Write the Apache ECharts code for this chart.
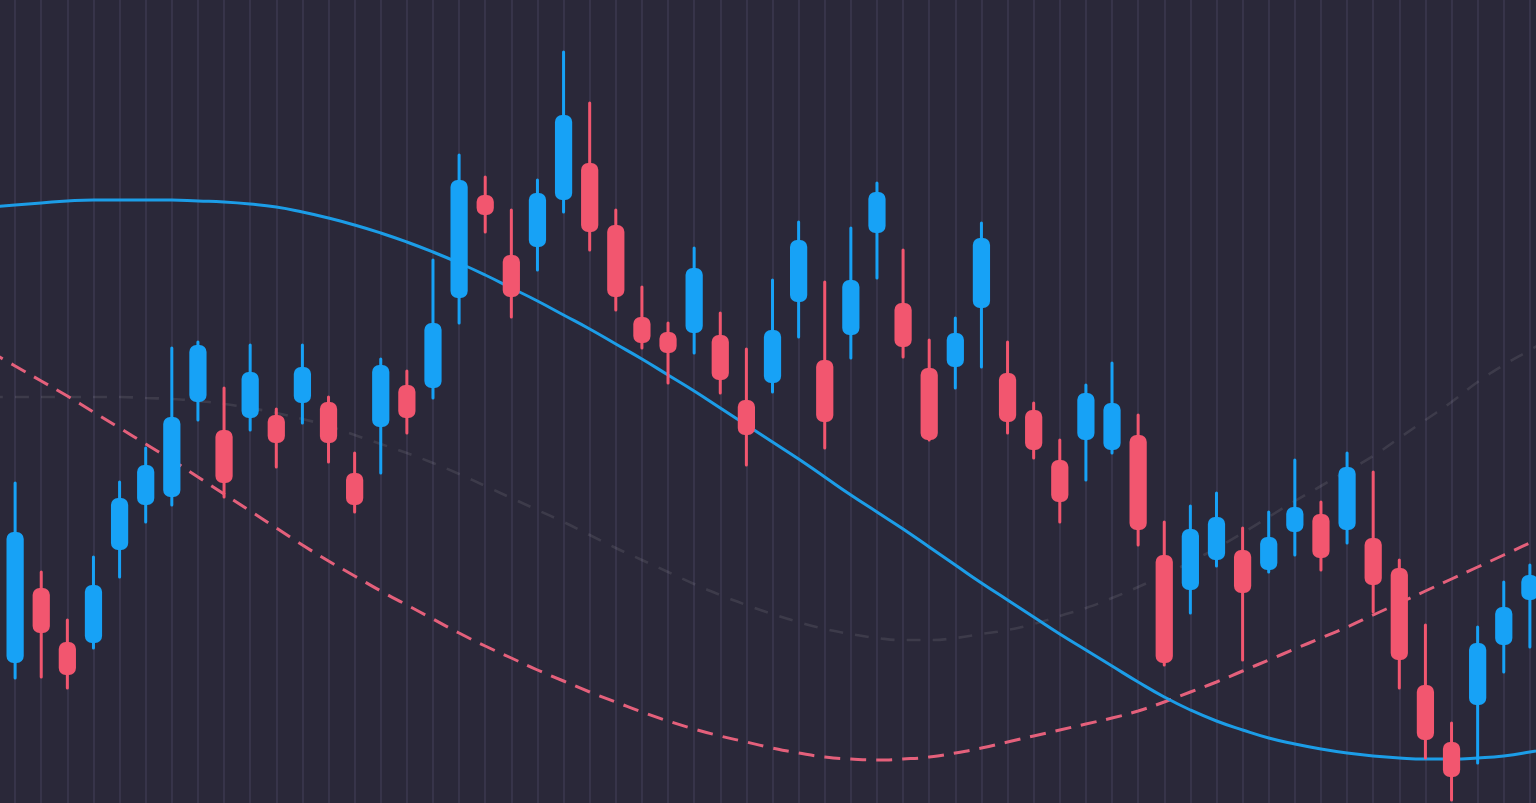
<!DOCTYPE html>
<html>
<head>
<meta charset="utf-8">
<style>
  html, body { margin: 0; padding: 0; background: #2a2839; }
  #chart { width: 1536px; height: 803px; }
</style>
<script src="https://cdn.jsdelivr.net/npm/echarts@6/dist/echarts.min.js"></script>
</head>
<body>
<div id="chart"></div>
<script>
// Candle values (price units), one entry per candle
const opens  = [14.0,21.5,16.1,16.0,25.3,29.8,30.6,40.1,37.3,38.5,38.8,40.0,40.1,33.0,37.6,41.8,41.5,50.5,60.8,54.8,55.6,60.3,64.0,57.8,48.6,47.1,47.0,46.8,40.3,42.0,50.1,44.3,46.8,57.0,50.0,43.5,43.6,49.5,43.0,39.3,34.3,36.3,35.3,36.8,24.8,21.3,24.3,25.3,23.3,27.1,28.9,27.3,26.5,23.5,11.8,6.1,9.8,15.8,20.3];
const closes = [27.1,17.0,12.8,21.8,30.5,33.8,38.6,45.8,32.0,43.1,36.0,43.6,36.0,29.8,43.8,38.5,48.0,62.3,58.8,50.6,61.0,68.8,57.1,50.6,46.0,45.0,53.5,42.3,36.8,47.3,56.3,38.1,52.3,61.1,45.6,36.3,47.0,56.5,38.1,35.3,30.1,41.0,40.0,27.3,14.0,27.4,28.6,21.0,26.6,29.6,24.5,33.6,21.8,14.3,6.3,2.6,16.0,19.6,22.8];
const lows   = [12.5,12.6,11.5,15.5,22.6,28.1,29.8,38.3,30.6,37.3,33.6,38.0,34.1,29.1,33.0,37.0,40.5,48.0,57.1,48.6,53.3,59.1,55.3,49.3,45.5,42.0,45.0,41.0,33.8,41.1,46.6,35.5,44.5,52.5,44.6,36.3,41.5,43.6,37.0,34.5,28.1,32.3,35.0,25.8,13.8,19.0,23.7,14.3,23.1,24.8,23.3,26.0,19.1,11.5,4.5,0.3,4.0,13.1,15.6];
const highs  = [32.0,23.1,18.3,24.6,32.1,35.5,45.5,46.1,41.5,45.8,39.4,45.8,40.6,35.0,44.4,43.2,54.3,64.8,62.6,59.3,62.3,75.1,70.0,59.3,51.6,48.0,55.5,49.0,45.4,52.3,58.1,52.1,57.5,62.0,55.3,46.3,48.5,58.0,46.1,40.0,36.3,41.8,44.0,38.8,28.1,29.7,31.0,27.5,29.1,34.3,30.1,35.0,33.1,24.3,17.8,8.0,17.6,22.1,23.8];

// Indicator lines (one extra point at each end, beyond the candles)
const blueLine = [59.6,59.8,60.0,60.2,60.3,60.3,60.3,60.3,60.2,60.1,59.9,59.6,59.1,58.5,57.8,57.0,56.1,55.1,54.0,52.8,51.5,50.2,48.8,47.4,45.9,44.4,42.8,41.2,39.5,37.8,36.1,34.4,32.6,30.8,29.1,27.4,25.6,23.8,22.0,20.3,18.6,16.9,15.3,13.7,12.1,10.6,9.3,8.2,7.3,6.5,5.9,5.4,5.0,4.7,4.5,4.4,4.4,4.5,4.7,5.1,5.6];
const redLine  = [45.2,43.7,42.2,40.7,39.1,37.5,35.9,34.3,32.6,30.9,29.2,27.5,25.8,24.2,22.7,21.2,19.8,18.4,17.0,15.7,14.5,13.3,12.2,11.1,10.1,9.1,8.2,7.4,6.7,6.1,5.5,5.0,4.6,4.4,4.3,4.4,4.6,5.0,5.5,6.1,6.7,7.3,7.9,8.5,9.2,10.1,11.1,12.1,13.2,14.3,15.4,16.5,17.6,18.8,20.0,21.2,22.4,23.6,24.8,26.0,27.1];
const grayLine = [40.6,40.6,40.6,40.6,40.6,40.6,40.5,40.4,40.2,39.9,39.5,39.0,38.4,37.7,36.8,35.9,35.0,34.0,32.9,31.7,30.5,29.3,28.1,26.8,25.5,24.3,23.1,21.9,20.8,19.8,18.9,18.1,17.4,16.9,16.5,16.3,16.3,16.5,16.9,17.3,17.9,18.7,19.5,20.5,21.6,22.8,24.1,25.5,27.0,28.6,30.2,31.7,33.2,34.7,36.5,38.3,40.1,42.1,43.8,45.3,46.8];

const categories = blueLine.map((_, i) => 'D' + i);

const UP = '#17a2f6';
const DOWN = '#f2566f';

const candleData = opens.map((o, i) => [i + 1, o, closes[i], lows[i], highs[i]]);

const chart = echarts.init(document.getElementById('chart'));
chart.setOption({
  backgroundColor: '#2a2839',
  animation: false,
  grid: { left: -11, top: 0, width: 1567, height: 803, outerBoundsMode: 'none', containLabel: false },
  xAxis: {
    type: 'category',
    data: categories,
    boundaryGap: false,
    axisLine: { show: false },
    axisTick: { show: false },
    axisLabel: { show: false },
    splitLine: { show: true, interval: 0, lineStyle: { color: '#3b384f', width: 1.6 } }
  },
  yAxis: {
    type: 'value',
    min: 0,
    max: 80.3,
    axisLine: { show: false },
    axisTick: { show: false },
    axisLabel: { show: false },
    splitLine: { show: false }
  },
  series: [
    {
      type: 'line', data: grayLine, smooth: true, symbol: 'none', z: 1,
      lineStyle: { color: 'rgba(255,255,255,0.09)', width: 2.6, type: [14, 12] }
    },
    {
      type: 'line', data: redLine, smooth: true, symbol: 'none', z: 2,
      lineStyle: { color: '#e4607b', width: 3, type: [16, 10] }
    },
    {
      type: 'line', data: blueLine, smooth: true, symbol: 'none', z: 2,
      lineStyle: { color: '#1c9de7', width: 3 }
    },
    {
      type: 'custom',
      z: 5,
      clip: false,
      data: candleData,
      encode: { x: 0, y: [1, 2, 3, 4] },
      renderItem: function (params, api) {
        const x = api.value(0);
        const o = api.value(1), c = api.value(2), l = api.value(3), h = api.value(4);
        const pO = api.coord([x, o]);
        const pC = api.coord([x, c]);
        const pL = api.coord([x, l]);
        const pH = api.coord([x, h]);
        const w = api.size([1, 0])[0] * 0.66;
        const color = c >= o ? UP : DOWN;
        const top = Math.min(pO[1], pC[1]);
        const hgt = Math.max(Math.abs(pO[1] - pC[1]), 6);
        const r = Math.min(7, hgt / 2, w / 2);
        return {
          type: 'group',
          children: [
            { type: 'line', shape: { x1: pO[0], y1: pH[1], x2: pO[0], y2: pL[1] },
              style: { stroke: color, lineWidth: 3, lineCap: 'round' } },
            { type: 'rect', shape: { x: pO[0] - w / 2, y: top, width: w, height: hgt, r: r },
              style: { fill: color } }
          ]
        };
      }
    }
  ]
});
</script>
</body>
</html>
